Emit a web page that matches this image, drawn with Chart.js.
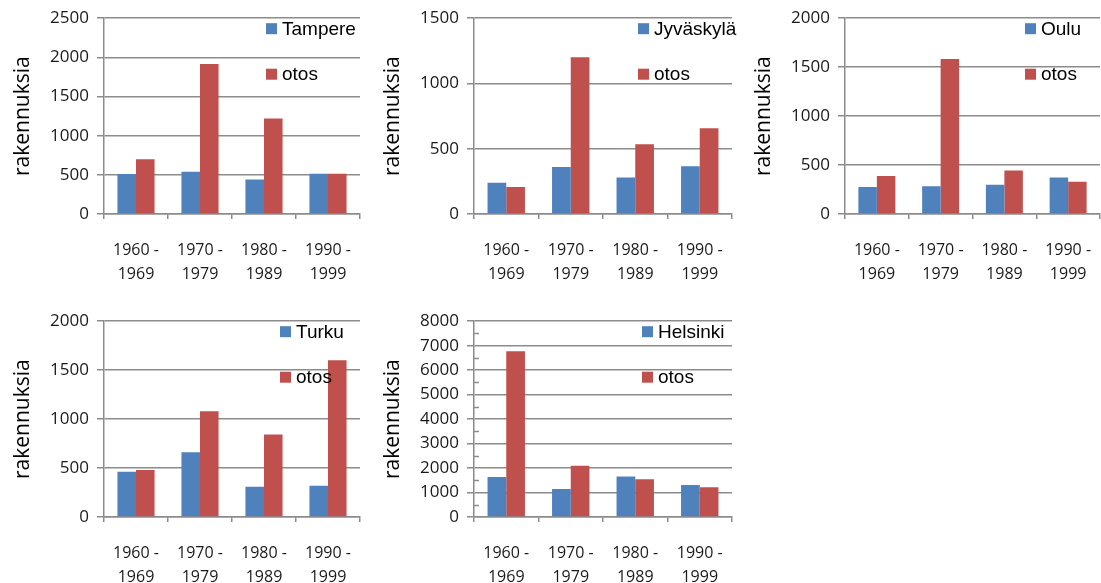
<!DOCTYPE html>
<html>
<head>
<meta charset="utf-8">
<script src="https://cdn.jsdelivr.net/npm/chart.js@4.4.0/dist/chart.umd.min.js"></script>
<style>
html, body { margin: 0; padding: 0; background: #fff; overflow: hidden; }
body { width: 1101px; height: 583px; position: relative; }
.box { position: absolute; }
</style>
</head>
<body>
<div class="box" id="b0"><canvas id="c0"></canvas></div>
<div class="box" id="b1"><canvas id="c1"></canvas></div>
<div class="box" id="b2"><canvas id="c2"></canvas></div>
<div class="box" id="b3"><canvas id="c3"></canvas></div>
<div class="box" id="b4"><canvas id="c4"></canvas></div>
<script>
var categories = [['1960 -', '1969'], ['1970 -', '1979'], ['1980 -', '1989'], ['1990 -', '1999']];
var yTitle = 'rakennuksia';
var sampleLabel = 'otos';
var cities = ['Tampere', 'Jyväskylä', 'Oulu', 'Turku', 'Helsinki'];

var tampere = [510, 540, 440, 515];
var tampereOtos = [700, 1915, 1220, 515];
var jyvaskyla = [240, 360, 280, 365];
var jyvaskylaOtos = [207, 1200, 535, 657];
var oulu = [276, 283, 300, 374];
var ouluOtos = [387, 1582, 444, 330];
var turku = [462, 661, 310, 320];
var turkuOtos = [480, 1079, 843, 1602];
var helsinki = [1632, 1147, 1659, 1309];
var helsinkiOtos = [6772, 2091, 1538, 1214];

var yMax = [2500, 1500, 2000, 2000, 8000];
var yStep = [500, 500, 500, 500, 1000];

var cityColor = '#4f81bd';
var otosColor = '#c0504d';
var gridColor = '#8c8c8c';

// where each small chart sits on the page
var panels = [
    { left: 0,   top: 0,   w: 365, h: 290, padR: 5, legendX: 162, city: tampere,   otos: tampereOtos },
    { left: 370, top: 0,   w: 367, h: 290, padR: 5, legendX: 164, city: jyvaskyla, otos: jyvaskylaOtos },
    { left: 741, top: 0,   w: 360, h: 290, padR: 1, legendX: 180, city: oulu,      otos: ouluOtos },
    { left: 0,   top: 303, w: 365, h: 280, padR: 5, legendX: 176, city: turku,     otos: turkuOtos },
    { left: 370, top: 303, w: 367, h: 280, padR: 5, legendX: 168, city: helsinki,  otos: helsinkiOtos, minor: true }
];

// legend drawn inside the plot, top right, like the original
var insideLegend = {
    id: 'insideLegend',
    afterDraw: function(chart) {
        var opts = chart.options.plugins.insideLegend;
        var ctx = chart.ctx;
        var area = chart.chartArea;
        ctx.save();
        ctx.font = '19px "Liberation Sans", Arial, sans-serif';
        ctx.textBaseline = 'middle';
        chart.data.datasets.forEach(function(ds, i) {
            var x = area.left + opts.x;
            var y = area.top + opts.rows[i];
            ctx.fillStyle = ds.backgroundColor;
            ctx.fillRect(x, y - 5.5, 11, 11);
            ctx.fillStyle = '#000';
            ctx.fillText(ds.label, x + 16, y + 1);
        });
        ctx.restore();
    }
};

// small inside tick marks halfway between the major ones
var minorTicks = {
    id: 'minorTicks',
    afterDraw: function(chart) {
        if (!chart.options.plugins.minorTicks.on) return;
        var y = chart.scales.y;
        var ctx = chart.ctx;
        var step = y.options.ticks.stepSize;
        ctx.save();
        ctx.strokeStyle = gridColor;
        ctx.lineWidth = 1.5;
        for (var v = step / 2; v < y.max; v += step) {
            var py = Math.round(y.getPixelForValue(v)) + 0.5;
            ctx.beginPath();
            ctx.moveTo(y.right, py);
            ctx.lineTo(y.right + 5, py);
            ctx.stroke();
        }
        ctx.restore();
    }
};

panels.forEach(function(p, i) {
    var box = document.getElementById('b' + i);
    box.style.left = p.left + 'px';
    box.style.top = p.top + 'px';
    box.style.width = p.w + 'px';
    box.style.height = p.h + 'px';

    new Chart(document.getElementById('c' + i), {
        type: 'bar',
        data: {
            labels: categories,
            datasets: [
                { label: cities[i], data: p.city, backgroundColor: cityColor },
                { label: sampleLabel, data: p.otos, backgroundColor: otosColor }
            ]
        },
        options: {
            responsive: true,
            maintainAspectRatio: false,
            animation: false,
            layout: { padding: { top: 16, right: p.padR, bottom: 0, left: 0 } },
            datasets: { bar: { categoryPercentage: 0.58, barPercentage: 1 } },
            plugins: {
                legend: { display: false },
                tooltip: { enabled: false },
                insideLegend: { x: p.legendX, rows: [10.5, 56] },
                minorTicks: { on: !!p.minor }
            },
            scales: {
                x: {
                    afterFit: function(s) {
                        s.height = p.h - 214;
                        // keep the plot width fixed, labels fit anyway
                        s.paddingLeft = 0;
                        s.paddingRight = 0;
                    },
                    grid: { drawOnChartArea: false, drawTicks: true, tickLength: 5, color: gridColor, lineWidth: 1.5 },
                    border: { color: gridColor, width: 1.5 },
                    ticks: {
                        padding: 19,
                        maxRotation: 0,
                        color: '#1a1a1a',
                        font: { family: '"Open Sans", sans-serif', size: 16, lineHeight: '24px' }
                    }
                },
                y: {
                    min: 0,
                    max: yMax[i],
                    afterFit: function(s) { s.width = 104; },
                    grid: { color: gridColor, lineWidth: 1.5, tickLength: 7 },
                    border: { color: gridColor, width: 1.5 },
                    ticks: {
                        stepSize: yStep[i],
                        padding: 8,
                        color: '#1a1a1a',
                        font: { family: '"Open Sans", sans-serif', size: 17 },
                        callback: function(v) { return String(v); }
                    },
                    title: {
                        display: true,
                        text: yTitle,
                        color: '#000',
                        padding: { top: 10, bottom: 0 },
                        font: { family: '"Open Sans", sans-serif', size: 21 }
                    }
                }
            }
        },
        plugins: [insideLegend, minorTicks]
    });
});
</script>
</body>
</html>
